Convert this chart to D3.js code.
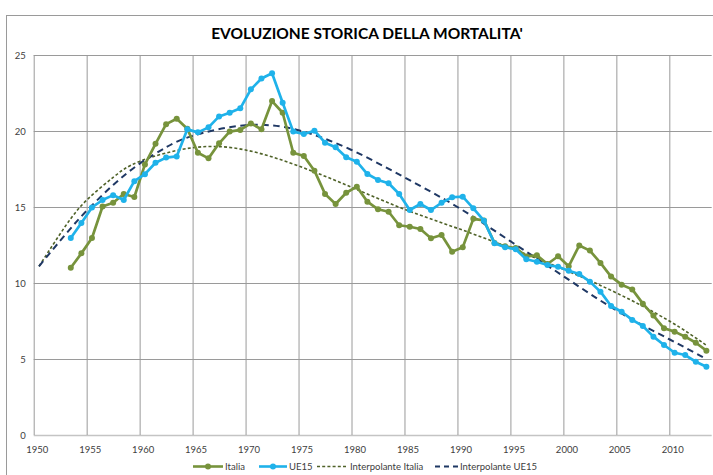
<!DOCTYPE html>
<html><head><meta charset="utf-8">
<script src="https://cdn.jsdelivr.net/npm/d3@7/dist/d3.min.js"></script>
<style>
body{margin:0;background:#fff}
svg text{font-family:Lato,"Open Sans",sans-serif;fill:#404040}
</style>
</head><body>
<svg id="chart" width="713" height="475"></svg>
<script>
const titleText = "EVOLUZIONE STORICA DELLA MORTALITA'";
const years = [1953,1954,1955,1956,1957,1958,1959,1960,1961,1962,1963,1964,1965,1966,1967,1968,1969,1970,
  1971,1972,1973,1974,1975,1976,1977,1978,1979,1980,1981,1982,1983,1984,1985,1986,1987,1988,1989,1990,
  1991,1992,1993,1994,1995,1996,1997,1998,1999,2000,2001,2002,2003,2004,2005,2006,2007,2008,2009,2010,
  2011,2012,2013];
const italia = [11.0,11.95,12.96,15.03,15.28,15.86,15.66,17.8,19.16,20.45,20.81,20.15,18.57,18.2,19.19,19.96,20.07,20.5,
  20.11,21.97,21.2,18.57,18.36,17.39,15.86,15.2,15.94,16.34,15.35,14.85,14.69,13.8,13.7,13.55,12.94,13.16,12.06,12.35,
  14.22,14.12,12.63,12.41,12.3,11.75,11.82,11.25,11.76,11.1,12.47,12.13,11.32,10.42,9.89,9.58,8.64,7.86,7.02,6.8,
  6.47,6.07,5.55];
const ue15 = [12.96,13.95,14.97,15.46,15.78,15.46,16.7,17.16,17.91,18.25,18.33,20.11,19.91,20.24,20.96,21.2,21.49,22.74,
  23.45,23.8,21.86,19.96,19.8,20.02,19.23,18.93,18.27,17.98,17.17,16.78,16.56,15.86,14.8,15.2,14.8,15.28,15.64,15.68,
  14.91,14.1,12.61,12.35,12.22,11.56,11.4,11.18,11.07,10.81,10.59,10.09,9.43,8.49,8.11,7.57,7.17,6.47,5.92,5.41,
  5.26,4.82,4.49];
// trend lines
const trendItaliaYears  = [1950.5,1953,1955,1957.5,1960,1965,1970,1975,1980,1985,1990,1995,2000,2005,2010,2013.5];
const trendItaliaValues = [11.1,13.75,15.45,16.95,18.0,18.9,18.75,17.7,16.3,14.85,13.6,12.3,10.9,9.35,7.5,5.9];
const trendUEYears  = [1950.5,1953,1955,1957.5,1960,1962.5,1965,1970,1975,1980,1985,1990,1995,2000,2005,2010,2013.5];
const trendUEValues = [11.1,13.2,14.75,16.45,17.85,18.93,19.68,20.38,20.05,18.75,16.95,15.0,12.75,10.45,8.2,6.3,5.0];
const xTicks = [1950,1955,1960,1965,1970,1975,1980,1985,1990,1995,2000,2005,2010];
const yTicks = [0,5,10,15,20,25];
const seriesNames = ["Italia","UE15","Interpolante Italia","Interpolante UE15"];

const cItalia = "#77933C", cUE = "#1FB2EA", cTrIt = "#4F6228", cTrUE = "#1F3864";

const svg = d3.select("#chart");
const L = 33.7, R = 711.7, T = 55, B = 435;
const x = d3.scaleLinear().domain([1950, 2014]).range([L, R]);
const y = d3.scaleLinear().domain([0, 25]).range([B, T]);

// outer chart border
svg.append("rect").attr("x",6.5).attr("y",15.5).attr("width",800).attr("height",600)
  .attr("fill","none").attr("stroke","#9a9a9a").attr("stroke-width",1);

// title
svg.append("text").attr("x",367).attr("y",39).attr("text-anchor","middle")
  .style("font-weight","bold").style("font-size","15.5px").style("fill","#000").text(titleText);

// grid
const gy = svg.append("g").attr("transform",`translate(${L},0)`)
  .call(d3.axisLeft(y).tickValues(yTicks).tickSize(-(R-L)).tickFormat(""));
gy.select(".domain").remove();
gy.selectAll("line").attr("stroke","#9a9a9a").attr("stroke-width",1);
gy.selectAll(".tick").filter(d=>d===0).select("line").attr("stroke","#c4c4c4").attr("stroke-width",1.5);

const gx = svg.append("g").attr("transform",`translate(0,${B})`)
  .call(d3.axisBottom(x).tickValues(xTicks).tickSize(-(B-T)).tickFormat(""));
gx.select(".domain").remove();
gx.selectAll("line").attr("stroke","#9a9a9a").attr("stroke-width",1);

// labels
const ly = svg.append("g").attr("transform",`translate(${L-8},0)`)
  .call(d3.axisLeft(y).tickValues(yTicks).tickSize(0).tickPadding(0));
ly.select(".domain").remove();
ly.selectAll("text").style("font-size","9.5px").style("fill","#404040");

const lx = svg.append("g").attr("transform",`translate(3,${B+11})`)
  .call(d3.axisBottom(x).tickValues(xTicks).tickSize(0).tickPadding(0).tickFormat(d3.format("d")));
lx.select(".domain").remove();
lx.selectAll("text").style("font-size","9.5px").style("fill","#404040");

// trend lines
const trendLine = d3.line().x(d=>x(d[0])).y(d=>y(d[1])).curve(d3.curveNatural);
svg.append("path").datum(d3.zip(trendItaliaYears, trendItaliaValues))
  .attr("d",trendLine).attr("fill","none").attr("stroke",cTrIt).attr("stroke-width",1.6)
  .attr("stroke-dasharray","3,2.2");
svg.append("path").datum(d3.zip(trendUEYears, trendUEValues))
  .attr("d",trendLine).attr("fill","none").attr("stroke",cTrUE).attr("stroke-width",2)
  .attr("stroke-dasharray","6.5,4.5");

// data series
const dataLine = d3.line().x(d=>x(d[0]+0.5)).y(d=>y(d[1]));
function drawSeries(vals, col){
  const pts = d3.zip(years, vals);
  svg.append("path").datum(pts).attr("d",dataLine).attr("fill","none")
    .attr("stroke",col).attr("stroke-width",2.7).attr("stroke-linejoin","round");
  svg.append("g").selectAll("circle").data(pts).join("circle")
    .attr("cx",d=>x(d[0]+0.5)).attr("cy",d=>y(d[1])).attr("r",3).attr("fill",col);
}
drawSeries(italia, cItalia);
drawSeries(ue15, cUE);

// legend
const lgY = 466.5;
const lg = svg.append("g");
const items = [
  {x0:193, x1:223, tx:225, col:cItalia, w:2.6, dash:null, marker:true},
  {x0:259, x1:287, tx:289, col:cUE, w:2.6, dash:null, marker:true},
  {x0:317, x1:348, tx:350, col:cTrIt, w:1.5, dash:"3,2.2", marker:false},
  {x0:435, x1:458, tx:460, col:cTrUE, w:2, dash:"5,4", marker:false}
];
items.forEach((it,i)=>{
  lg.append("line").attr("x1",it.x0).attr("x2",it.x1).attr("y1",lgY).attr("y2",lgY)
    .attr("stroke",it.col).attr("stroke-width",it.w).attr("stroke-dasharray",it.dash);
  if(it.marker) lg.append("circle").attr("cx",(it.x0+it.x1)/2).attr("cy",lgY).attr("r",3).attr("fill",it.col);
  lg.append("text").attr("x",it.tx).attr("y",lgY).attr("dy","0.35em")
    .style("font-size","9.5px").style("fill","#404040").text(seriesNames[i]);
});
</script>
</body></html>
